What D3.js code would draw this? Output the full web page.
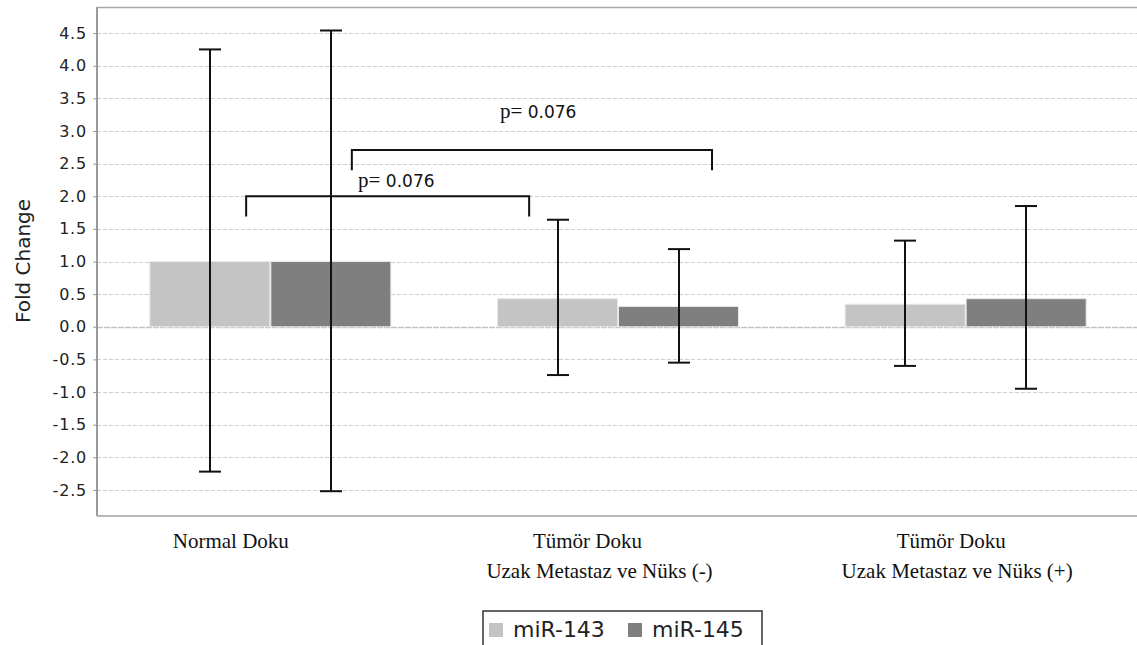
<!DOCTYPE html>
<html>
<head>
<meta charset="utf-8">
<script src="https://cdn.jsdelivr.net/npm/d3@7"></script>
<style>
  html, body { margin: 0; padding: 0; background: #fff; }
  svg { display: block; }
</style>
</head>
<body>
<svg id="chart" width="1137" height="645"></svg>
<script>
// Category labels (one array entry per text line)
const categories = [
  ["Normal Doku"],
  ["Tümör Doku", "Uzak Metastaz ve Nüks (-)"],
  ["Tümör Doku", "Uzak Metastaz ve Nüks (+)"]
];
const seriesNames = ["miR-143", "miR-145"];

// Mean fold change per category
const mir143 = [1.0, 0.43, 0.345];
const mir145 = [1.0, 0.31, 0.43];

// Error bar ends
const mir143Upper = [4.25, 1.64, 1.32];
const mir143Lower = [-2.22, -0.74, -0.60];
const mir145Upper = [4.54, 1.19, 1.85];
const mir145Lower = [-2.52, -0.55, -0.95];

const yTicks = [-2.5, -2.0, -1.5, -1.0, -0.5, 0.0, 0.5, 1.0, 1.5, 2.0, 2.5, 3.0, 3.5, 4.0, 4.5];

// Significance brackets (x in category-index units, y in fold change)
const bracketFrom = [-0.071, 0.233];
const bracketTo = [0.743, 1.269];
const bracketTop = [2.0, 2.71];
const bracketLegBottom = [1.69, 2.40];
const bracketLabel = ["0.076", "0.076"];
const bracketLabelX = [0.251, 0.659];
const bracketLabelY = [2.14, 3.20];

const colors = ["#c4c4c4", "#7f7f7f"];

const svg = d3.select("#chart");
const plot = { left: 97, right: 1140, top: 7, bottom: 516 };

const x0 = d3.scaleBand()
  .domain(d3.range(categories.length))
  .range([plot.left, plot.right])
  .padding(0);
const x1 = d3.scaleBand()
  .domain(seriesNames)
  .range([0, 242]);
const xIdx = d3.scaleLinear()
  .domain([0, categories.length - 1])
  .range([x0(0) + x0.bandwidth() / 2, x0(categories.length - 1) + x0.bandwidth() / 2]);
const y = d3.scaleLinear().domain([-2.90, 4.90]).range([plot.bottom, plot.top]);

const barX = (i, s) => x0(i) + x0.bandwidth() / 2 - 121 + x1(s);

// Horizontal dashed gridlines
svg.append("g").selectAll("line")
  .data(yTicks.filter(v => v !== 0))
  .join("line")
  .attr("x1", plot.left).attr("x2", plot.right)
  .attr("y1", d => Math.round(y(d)) + 0.5).attr("y2", d => Math.round(y(d)) + 0.5)
  .attr("stroke", "#cfcfcf").attr("stroke-width", 1)
  .attr("stroke-dasharray", "4,2");

// Zero line
svg.append("line")
  .attr("x1", plot.left).attr("x2", plot.right)
  .attr("y1", Math.round(y(0)) + 0.5).attr("y2", Math.round(y(0)) + 0.5)
  .attr("stroke", "#c2c2c2").attr("stroke-width", 1.5)
  .attr("stroke-dasharray", "6,1");

// Bars
const seriesValues = [mir143, mir145];
seriesNames.forEach((s, si) => {
  svg.append("g").selectAll("rect")
    .data(seriesValues[si])
    .join("rect")
    .attr("x", (d, i) => barX(i, s))
    .attr("width", x1.bandwidth() - 1)
    .attr("y", d => y(Math.max(0, d)))
    .attr("height", d => Math.abs(y(d) - y(0)))
    .attr("fill", colors[si])
    .attr("stroke", "#e8e8e8").attr("stroke-width", 1);
});

// Error bars
const uppers = [mir143Upper, mir145Upper];
const lowers = [mir143Lower, mir145Lower];
seriesNames.forEach((s, si) => {
  const g = svg.append("g").attr("stroke", "#111").attr("stroke-width", 2);
  uppers[si].forEach((up, i) => {
    const cx = Math.round(barX(i, s) + (x1.bandwidth() - 1) / 2);
    const lo = lowers[si][i];
    g.append("line").attr("x1", cx).attr("x2", cx).attr("y1", y(up)).attr("y2", y(lo));
    g.append("line").attr("x1", cx - 11).attr("x2", cx + 11).attr("y1", y(up)).attr("y2", y(up));
    g.append("line").attr("x1", cx - 11).attr("x2", cx + 11).attr("y1", y(lo)).attr("y2", y(lo));
  });
});

// Plot frame
svg.append("line").attr("x1", plot.left).attr("x2", plot.right)
  .attr("y1", plot.top + 0.5).attr("y2", plot.top + 0.5)
  .attr("stroke", "#a8a8a8").attr("stroke-width", 1.5);
svg.append("line").attr("x1", plot.left).attr("x2", plot.right)
  .attr("y1", plot.bottom).attr("y2", plot.bottom)
  .attr("stroke", "#a0a0a0").attr("stroke-width", 1.5);

// Y axis
const yAxis = d3.axisLeft(y).tickValues(yTicks).tickSize(4).tickPadding(6)
  .tickFormat(d3.format(".1f"));
const yg = svg.append("g").attr("transform", `translate(${plot.left},0)`).call(yAxis);
yg.select(".domain").attr("stroke", "#9a9a9a").attr("stroke-width", 2)
  .attr("d", `M0,${plot.top}V${plot.bottom}`);
yg.selectAll(".tick line").attr("stroke", "#9a9a9a");
yg.selectAll(".tick text")
  .attr("fill", "#222")
  .style("font-family", "'DejaVu Sans', sans-serif")
  .style("font-size", "16px")
  .style("letter-spacing", "0.8px")
  .text(d => d3.format(".1f")(d).replace("−", "-"));

// Y axis title
svg.append("text")
  .attr("transform", `translate(30,261) rotate(-90)`)
  .attr("text-anchor", "middle")
  .style("font-family", "'DejaVu Sans', sans-serif")
  .style("font-size", "20px")
  .attr("fill", "#222")
  .text("Fold Change");

// Category labels
const labelShift = [[-40], [-31, -19], [-15, -9]];
const lineBaseline = [548, 578];
categories.forEach((lines, i) => {
  lines.forEach((t, li) => {
    svg.append("text")
      .attr("x", x0(i) + x0.bandwidth() / 2 + labelShift[i][li])
      .attr("y", lineBaseline[li])
      .attr("text-anchor", "middle")
      .style("font-family", "'Liberation Serif', 'Times New Roman', serif")
      .style("font-size", "21px")
      .attr("fill", "#111")
      .text(t);
  });
});

// Significance brackets
bracketFrom.forEach((f, k) => {
  const xa = xIdx(f), xb = xIdx(bracketTo[k]);
  const yt = y(bracketTop[k]), yb = y(bracketLegBottom[k]);
  svg.append("path")
    .attr("d", `M${xa},${yb}V${yt}H${xb}V${yb}`)
    .attr("fill", "none").attr("stroke", "#111").attr("stroke-width", 2);
  const t = svg.append("text")
    .attr("x", xIdx(bracketLabelX[k]))
    .attr("y", y(bracketLabelY[k]))
    .attr("fill", "#111");
  t.append("tspan")
    .style("font-family", "'Liberation Serif', serif")
    .style("font-size", "21px")
    .text("p=");
  t.append("tspan")
    .style("font-family", "'DejaVu Sans', sans-serif")
    .style("font-size", "17px")
    .text(" " + bracketLabel[k]);
});

// Legend
const legend = svg.append("g");
legend.append("rect")
  .attr("x", 483).attr("y", 611).attr("width", 279).attr("height", 50)
  .attr("fill", "#fff").attr("stroke", "#333").attr("stroke-width", 1.5);
const legendX = [489, 628];
seriesNames.forEach((s, si) => {
  legend.append("rect")
    .attr("x", legendX[si]).attr("y", 623).attr("width", 14).attr("height", 14)
    .attr("fill", colors[si]);
  legend.append("text")
    .attr("x", legendX[si] + 24).attr("y", 637)
    .style("font-family", "'DejaVu Sans', sans-serif")
    .style("font-size", "22px")
    .attr("fill", "#222")
    .text(s);
});
</script>
</body>
</html>
